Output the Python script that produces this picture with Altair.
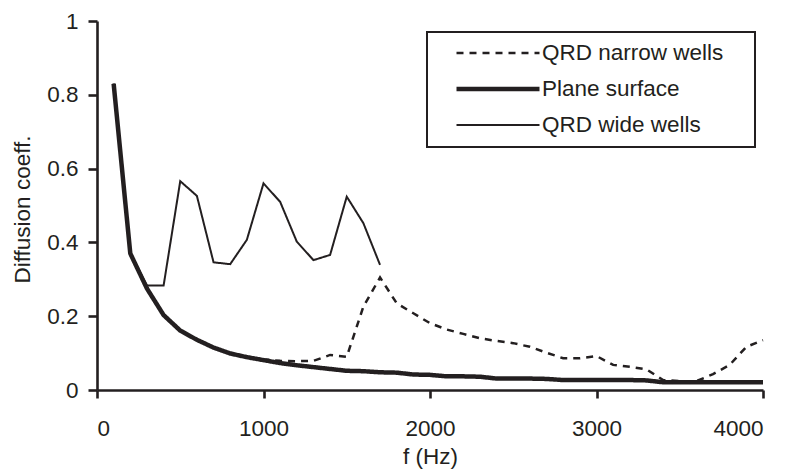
import altair as alt
import pandas as pd

# Frequency grid (Hz)
freqs = [100 * i for i in range(1, 41)]

# Diffusion coefficient of the flat reference surface
plane = [0.83, 0.37, 0.275, 0.203, 0.161, 0.136, 0.115, 0.099, 0.089, 0.081,
         0.073, 0.067, 0.062, 0.057, 0.052, 0.051, 0.048, 0.047, 0.042, 0.041,
         0.037, 0.037, 0.036, 0.031, 0.031, 0.031, 0.030, 0.027, 0.027, 0.027,
         0.027, 0.027, 0.026, 0.021, 0.021, 0.021, 0.021, 0.021, 0.021, 0.021]

# QRD diffuser with narrow wells
narrow = [0.83, 0.37, 0.275, 0.203, 0.161, 0.136, 0.115, 0.099, 0.089, 0.083,
          0.079, 0.078, 0.079, 0.095, 0.090, 0.226, 0.305, 0.235, 0.208, 0.181,
          0.164, 0.152, 0.140, 0.133, 0.127, 0.117, 0.101, 0.086, 0.086, 0.092,
          0.068, 0.063, 0.056, 0.027, 0.024, 0.024, 0.043, 0.068, 0.117, 0.135]

# QRD diffuser with wide wells (computed up to 1700 Hz only)
wide_freqs = freqs[:17]
wide = [0.83, 0.37, 0.283, 0.283, 0.566, 0.526, 0.346, 0.341, 0.407, 0.560,
        0.510, 0.402, 0.352, 0.366, 0.524, 0.452, 0.339]

series_names = ["QRD narrow wells", "Plane surface", "QRD wide wells"]

rows = []
for f, v in zip(freqs, narrow):
    rows.append({"f": f, "d": v, "series": series_names[0]})
for f, v in zip(freqs, plane):
    rows.append({"f": f, "d": v, "series": series_names[1]})
for f, v in zip(wide_freqs, wide):
    rows.append({"f": f, "d": v, "series": series_names[2]})
df = pd.DataFrame(rows)

FONT = "Liberation Sans"
INK = "#231f20"
FS = 22.5

names_js = "[" + ",".join("'%s'" % s for s in series_names) + "]"

# series index 0/1/2 drives both dash pattern and line weight,
# so the two channels share one legend
steps = [0.5, 1.5]
dash_scale = alt.Scale(type="threshold", domain=steps,
                       range=[[7, 6], [1, 0], [1, 0]])
width_scale = alt.Scale(type="threshold", domain=steps,
                        range=[2.5, 4.5, 2])

# the blank right-hand title only widens the framed box
legend = alt.Legend(
    title=" ", titleOrient="right", titlePadding=22,
    labelExpr=names_js + "[datum.index]",
)

chart = alt.Chart(df).transform_calculate(
    k="indexof(" + names_js + ", datum.series)"
).mark_line(color=INK, strokeCap="butt").encode(
    x=alt.X("f:Q", title="f (Hz)",
            scale=alt.Scale(domain=[0, 4000], nice=False),
            axis=alt.Axis(values=[0, 1000, 2000, 3000, 4000], format="d",
                          tickSize=8, labelPadding=19,
                          titleX=333, titleY=55)),
    y=alt.Y("d:Q", title="Diffusion coeff.",
            scale=alt.Scale(domain=[0, 1], nice=False),
            axis=alt.Axis(values=[0, 0.2, 0.4, 0.6, 0.8, 1], format="~g",
                          tickSize=9, labelPadding=10,
                          titleX=-63, titleY=188)),
    strokeDash=alt.StrokeDash("k:Q", scale=dash_scale, legend=legend),
    strokeWidth=alt.StrokeWidth("k:Q", scale=width_scale, legend=legend),
    detail="series:N",
).properties(
    width=666,
    height=369,
    padding={"left": 97, "top": 21, "right": 27, "bottom": 80},
    autosize=alt.AutoSizeParams(type="none"),
).configure_view(
    stroke=None
).configure_axis(
    domainColor=INK, domainWidth=2.6,
    tickColor=INK, tickWidth=2.6,
    labelFont=FONT, labelFontSize=FS, labelColor=INK,
    titleFont=FONT, titleFontSize=FS, titleColor=INK, titleFontWeight="normal",
    grid=False,
).configure_legend(
    orient="none", legendX=330, legendY=11,
    strokeColor=INK, strokeWidth=2, padding=10,
    symbolType="stroke", symbolSize=6889, symbolOffset=17,
    symbolStrokeColor=INK, clipHeight=22,
    labelFont=FONT, labelFontSize=FS, labelColor=INK, labelOffset=0,
    labelLimit=400, rowPadding=13,
    titleFont=FONT, titleFontSize=FS,
)

chart.save("out.html", embed_options={"renderer": "svg", "actions": False})
